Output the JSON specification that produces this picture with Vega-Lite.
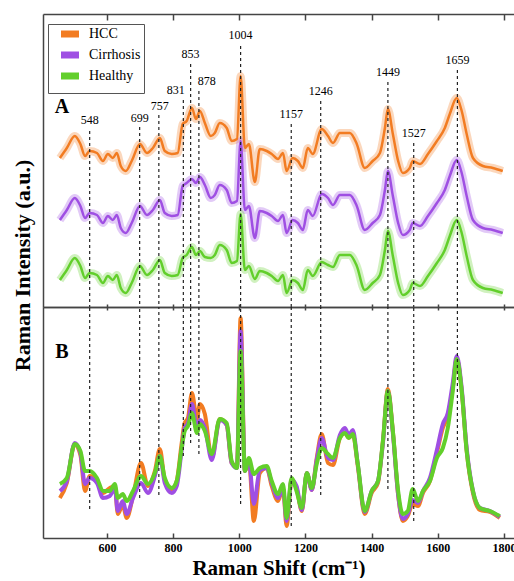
{
  "$schema": "https://vega.github.io/schema/vega-lite/v6.json",
  "padding": {"left": 11, "top": 13, "right": 0, "bottom": 0},
  "autosize": {"type": "pad"},
  "background": "white",
  "config": {
    "view": {"stroke": null},
    "font": "Liberation Serif",
    "axis": {"grid": false, "domainColor": "#444", "domainWidth": 1.5, "tickColor": "#444", "tickWidth": 1.5,
      "labelFont": "Liberation Serif", "labelFontWeight": "bold", "labelFontSize": 12, "labelColor": "black",
      "titleFont": "Liberation Serif", "titleFontWeight": "bold", "titleFontSize": 21, "titleColor": "black"}
  },
  "datasets": {
    "A": [
      {"x":458,"s":"HCC","y":149},{"x":479,"s":"HCC","y":159},{"x":503,"s":"HCC","y":171},{"x":520,"s":"HCC","y":163},{"x":534,"s":"HCC","y":151},{"x":548,"s":"HCC","y":156},{"x":570,"s":"HCC","y":154},{"x":588,"s":"HCC","y":146},{"x":603,"s":"HCC","y":153},{"x":618,"s":"HCC","y":149},{"x":630,"s":"HCC","y":154},{"x":642,"s":"HCC","y":141},{"x":657,"s":"HCC","y":136},{"x":675,"s":"HCC","y":146},{"x":700,"s":"HCC","y":163},{"x":721,"s":"HCC","y":154},{"x":739,"s":"HCC","y":159},{"x":760,"s":"HCC","y":169},{"x":775,"s":"HCC","y":156},{"x":796,"s":"HCC","y":153},{"x":814,"s":"HCC","y":154},{"x":829,"s":"HCC","y":183},{"x":841,"s":"HCC","y":186},{"x":857,"s":"HCC","y":199},{"x":869,"s":"HCC","y":188},{"x":881,"s":"HCC","y":196},{"x":896,"s":"HCC","y":184},{"x":914,"s":"HCC","y":171},{"x":926,"s":"HCC","y":174},{"x":941,"s":"HCC","y":184},{"x":962,"s":"HCC","y":179},{"x":977,"s":"HCC","y":166},{"x":993,"s":"HCC","y":168},{"x":1004,"s":"HCC","y":231},{"x":1017,"s":"HCC","y":159},{"x":1029,"s":"HCC","y":163},{"x":1047,"s":"HCC","y":125},{"x":1062,"s":"HCC","y":158},{"x":1083,"s":"HCC","y":156},{"x":1098,"s":"HCC","y":153},{"x":1117,"s":"HCC","y":148},{"x":1132,"s":"HCC","y":154},{"x":1143,"s":"HCC","y":136},{"x":1161,"s":"HCC","y":149},{"x":1177,"s":"HCC","y":146},{"x":1192,"s":"HCC","y":139},{"x":1207,"s":"HCC","y":159},{"x":1222,"s":"HCC","y":153},{"x":1249,"s":"HCC","y":178},{"x":1268,"s":"HCC","y":171},{"x":1283,"s":"HCC","y":164},{"x":1304,"s":"HCC","y":174},{"x":1334,"s":"HCC","y":174},{"x":1355,"s":"HCC","y":163},{"x":1379,"s":"HCC","y":139},{"x":1403,"s":"HCC","y":146},{"x":1425,"s":"HCC","y":154},{"x":1440,"s":"HCC","y":179},{"x":1449,"s":"HCC","y":198},{"x":1464,"s":"HCC","y":173},{"x":1480,"s":"HCC","y":146},{"x":1494,"s":"HCC","y":134},{"x":1515,"s":"HCC","y":139},{"x":1524,"s":"HCC","y":146},{"x":1546,"s":"HCC","y":143},{"x":1570,"s":"HCC","y":153},{"x":1597,"s":"HCC","y":166},{"x":1621,"s":"HCC","y":179},{"x":1636,"s":"HCC","y":193},{"x":1657,"s":"HCC","y":209},{"x":1672,"s":"HCC","y":196},{"x":1687,"s":"HCC","y":173},{"x":1706,"s":"HCC","y":149},{"x":1736,"s":"HCC","y":141},{"x":1766,"s":"HCC","y":139},{"x":1796,"s":"HCC","y":136},
      {"x":458,"s":"Cirrhosis","y":87},{"x":479,"s":"Cirrhosis","y":97},{"x":503,"s":"Cirrhosis","y":109},{"x":520,"s":"Cirrhosis","y":101},{"x":534,"s":"Cirrhosis","y":89},{"x":548,"s":"Cirrhosis","y":94},{"x":570,"s":"Cirrhosis","y":92},{"x":588,"s":"Cirrhosis","y":84},{"x":603,"s":"Cirrhosis","y":91},{"x":618,"s":"Cirrhosis","y":87},{"x":630,"s":"Cirrhosis","y":92},{"x":642,"s":"Cirrhosis","y":79},{"x":657,"s":"Cirrhosis","y":74},{"x":675,"s":"Cirrhosis","y":84},{"x":700,"s":"Cirrhosis","y":101},{"x":721,"s":"Cirrhosis","y":92},{"x":739,"s":"Cirrhosis","y":97},{"x":760,"s":"Cirrhosis","y":107},{"x":775,"s":"Cirrhosis","y":94},{"x":796,"s":"Cirrhosis","y":91},{"x":814,"s":"Cirrhosis","y":92},{"x":829,"s":"Cirrhosis","y":121},{"x":841,"s":"Cirrhosis","y":124},{"x":857,"s":"Cirrhosis","y":128},{"x":869,"s":"Cirrhosis","y":124},{"x":881,"s":"Cirrhosis","y":130},{"x":896,"s":"Cirrhosis","y":122},{"x":914,"s":"Cirrhosis","y":109},{"x":926,"s":"Cirrhosis","y":112},{"x":941,"s":"Cirrhosis","y":122},{"x":962,"s":"Cirrhosis","y":117},{"x":977,"s":"Cirrhosis","y":104},{"x":993,"s":"Cirrhosis","y":106},{"x":1004,"s":"Cirrhosis","y":166},{"x":1017,"s":"Cirrhosis","y":97},{"x":1029,"s":"Cirrhosis","y":101},{"x":1047,"s":"Cirrhosis","y":69},{"x":1062,"s":"Cirrhosis","y":96},{"x":1083,"s":"Cirrhosis","y":94},{"x":1098,"s":"Cirrhosis","y":91},{"x":1117,"s":"Cirrhosis","y":86},{"x":1132,"s":"Cirrhosis","y":92},{"x":1143,"s":"Cirrhosis","y":74},{"x":1161,"s":"Cirrhosis","y":87},{"x":1177,"s":"Cirrhosis","y":84},{"x":1192,"s":"Cirrhosis","y":77},{"x":1207,"s":"Cirrhosis","y":97},{"x":1222,"s":"Cirrhosis","y":91},{"x":1249,"s":"Cirrhosis","y":113},{"x":1268,"s":"Cirrhosis","y":109},{"x":1283,"s":"Cirrhosis","y":102},{"x":1304,"s":"Cirrhosis","y":112},{"x":1334,"s":"Cirrhosis","y":112},{"x":1355,"s":"Cirrhosis","y":101},{"x":1379,"s":"Cirrhosis","y":77},{"x":1403,"s":"Cirrhosis","y":84},{"x":1425,"s":"Cirrhosis","y":92},{"x":1440,"s":"Cirrhosis","y":117},{"x":1449,"s":"Cirrhosis","y":136},{"x":1464,"s":"Cirrhosis","y":111},{"x":1480,"s":"Cirrhosis","y":84},{"x":1494,"s":"Cirrhosis","y":72},{"x":1515,"s":"Cirrhosis","y":77},{"x":1524,"s":"Cirrhosis","y":84},{"x":1546,"s":"Cirrhosis","y":81},{"x":1570,"s":"Cirrhosis","y":91},{"x":1597,"s":"Cirrhosis","y":104},{"x":1621,"s":"Cirrhosis","y":117},{"x":1636,"s":"Cirrhosis","y":131},{"x":1657,"s":"Cirrhosis","y":147},{"x":1672,"s":"Cirrhosis","y":134},{"x":1687,"s":"Cirrhosis","y":111},{"x":1706,"s":"Cirrhosis","y":87},{"x":1736,"s":"Cirrhosis","y":79},{"x":1766,"s":"Cirrhosis","y":77},{"x":1796,"s":"Cirrhosis","y":74},
      {"x":458,"s":"Healthy","y":27},{"x":479,"s":"Healthy","y":37},{"x":503,"s":"Healthy","y":49},{"x":520,"s":"Healthy","y":41},{"x":534,"s":"Healthy","y":29},{"x":548,"s":"Healthy","y":34},{"x":570,"s":"Healthy","y":32},{"x":588,"s":"Healthy","y":24},{"x":603,"s":"Healthy","y":31},{"x":618,"s":"Healthy","y":27},{"x":630,"s":"Healthy","y":32},{"x":642,"s":"Healthy","y":19},{"x":657,"s":"Healthy","y":14},{"x":675,"s":"Healthy","y":24},{"x":700,"s":"Healthy","y":41},{"x":721,"s":"Healthy","y":32},{"x":739,"s":"Healthy","y":37},{"x":760,"s":"Healthy","y":47},{"x":775,"s":"Healthy","y":34},{"x":796,"s":"Healthy","y":31},{"x":814,"s":"Healthy","y":32},{"x":829,"s":"Healthy","y":49},{"x":841,"s":"Healthy","y":52},{"x":857,"s":"Healthy","y":60},{"x":869,"s":"Healthy","y":52},{"x":881,"s":"Healthy","y":56},{"x":896,"s":"Healthy","y":50},{"x":914,"s":"Healthy","y":49},{"x":926,"s":"Healthy","y":52},{"x":941,"s":"Healthy","y":62},{"x":962,"s":"Healthy","y":57},{"x":977,"s":"Healthy","y":44},{"x":993,"s":"Healthy","y":46},{"x":1004,"s":"Healthy","y":93},{"x":1017,"s":"Healthy","y":37},{"x":1029,"s":"Healthy","y":41},{"x":1047,"s":"Healthy","y":28},{"x":1062,"s":"Healthy","y":36},{"x":1083,"s":"Healthy","y":34},{"x":1098,"s":"Healthy","y":31},{"x":1117,"s":"Healthy","y":26},{"x":1132,"s":"Healthy","y":32},{"x":1143,"s":"Healthy","y":14},{"x":1161,"s":"Healthy","y":27},{"x":1177,"s":"Healthy","y":24},{"x":1192,"s":"Healthy","y":17},{"x":1207,"s":"Healthy","y":37},{"x":1222,"s":"Healthy","y":31},{"x":1249,"s":"Healthy","y":45},{"x":1268,"s":"Healthy","y":42},{"x":1283,"s":"Healthy","y":40},{"x":1304,"s":"Healthy","y":52},{"x":1334,"s":"Healthy","y":52},{"x":1355,"s":"Healthy","y":41},{"x":1379,"s":"Healthy","y":17},{"x":1403,"s":"Healthy","y":24},{"x":1425,"s":"Healthy","y":32},{"x":1440,"s":"Healthy","y":57},{"x":1449,"s":"Healthy","y":76},{"x":1464,"s":"Healthy","y":51},{"x":1480,"s":"Healthy","y":24},{"x":1494,"s":"Healthy","y":12},{"x":1515,"s":"Healthy","y":17},{"x":1524,"s":"Healthy","y":24},{"x":1546,"s":"Healthy","y":21},{"x":1570,"s":"Healthy","y":31},{"x":1597,"s":"Healthy","y":44},{"x":1621,"s":"Healthy","y":57},{"x":1636,"s":"Healthy","y":71},{"x":1657,"s":"Healthy","y":87},{"x":1672,"s":"Healthy","y":74},{"x":1687,"s":"Healthy","y":51},{"x":1706,"s":"Healthy","y":27},{"x":1736,"s":"Healthy","y":19},{"x":1766,"s":"Healthy","y":17},{"x":1796,"s":"Healthy","y":14}
    ],
    "B": [
      {"x":458,"s":"HCC","y":40},{"x":479,"s":"HCC","y":55},{"x":503,"s":"HCC","y":94},{"x":520,"s":"HCC","y":83},{"x":534,"s":"HCC","y":47},{"x":548,"s":"HCC","y":62},{"x":570,"s":"HCC","y":57},{"x":588,"s":"HCC","y":45},{"x":609,"s":"HCC","y":50},{"x":624,"s":"HCC","y":52},{"x":633,"s":"HCC","y":24},{"x":648,"s":"HCC","y":33},{"x":660,"s":"HCC","y":20},{"x":679,"s":"HCC","y":42},{"x":703,"s":"HCC","y":75},{"x":724,"s":"HCC","y":52},{"x":745,"s":"HCC","y":67},{"x":760,"s":"HCC","y":89},{"x":775,"s":"HCC","y":58},{"x":796,"s":"HCC","y":48},{"x":811,"s":"HCC","y":57},{"x":826,"s":"HCC","y":95},{"x":835,"s":"HCC","y":115},{"x":845,"s":"HCC","y":120},{"x":857,"s":"HCC","y":145},{"x":872,"s":"HCC","y":119},{"x":881,"s":"HCC","y":134},{"x":896,"s":"HCC","y":124},{"x":917,"s":"HCC","y":80},{"x":941,"s":"HCC","y":119},{"x":962,"s":"HCC","y":113},{"x":977,"s":"HCC","y":75},{"x":993,"s":"HCC","y":72},{"x":1004,"s":"HCC","y":220},{"x":1017,"s":"HCC","y":67},{"x":1029,"s":"HCC","y":78},{"x":1044,"s":"HCC","y":17},{"x":1062,"s":"HCC","y":65},{"x":1083,"s":"HCC","y":70},{"x":1098,"s":"HCC","y":52},{"x":1117,"s":"HCC","y":37},{"x":1132,"s":"HCC","y":50},{"x":1143,"s":"HCC","y":12},{"x":1158,"s":"HCC","y":58},{"x":1173,"s":"HCC","y":50},{"x":1189,"s":"HCC","y":27},{"x":1204,"s":"HCC","y":65},{"x":1219,"s":"HCC","y":48},{"x":1234,"s":"HCC","y":80},{"x":1249,"s":"HCC","y":104},{"x":1268,"s":"HCC","y":75},{"x":1283,"s":"HCC","y":73},{"x":1304,"s":"HCC","y":100},{"x":1319,"s":"HCC","y":105},{"x":1331,"s":"HCC","y":100},{"x":1343,"s":"HCC","y":104},{"x":1358,"s":"HCC","y":72},{"x":1379,"s":"HCC","y":24},{"x":1400,"s":"HCC","y":45},{"x":1419,"s":"HCC","y":55},{"x":1434,"s":"HCC","y":97},{"x":1449,"s":"HCC","y":149},{"x":1464,"s":"HCC","y":107},{"x":1480,"s":"HCC","y":43},{"x":1494,"s":"HCC","y":17},{"x":1509,"s":"HCC","y":22},{"x":1524,"s":"HCC","y":34},{"x":1540,"s":"HCC","y":32},{"x":1555,"s":"HCC","y":45},{"x":1576,"s":"HCC","y":57},{"x":1597,"s":"HCC","y":85},{"x":1615,"s":"HCC","y":110},{"x":1630,"s":"HCC","y":122},{"x":1645,"s":"HCC","y":150},{"x":1657,"s":"HCC","y":180},{"x":1672,"s":"HCC","y":147},{"x":1687,"s":"HCC","y":87},{"x":1706,"s":"HCC","y":45},{"x":1727,"s":"HCC","y":28},{"x":1757,"s":"HCC","y":26},{"x":1787,"s":"HCC","y":20},
      {"x":458,"s":"Cirrhosis","y":47},{"x":479,"s":"Cirrhosis","y":57},{"x":503,"s":"Cirrhosis","y":95},{"x":520,"s":"Cirrhosis","y":85},{"x":534,"s":"Cirrhosis","y":54},{"x":548,"s":"Cirrhosis","y":60},{"x":570,"s":"Cirrhosis","y":55},{"x":588,"s":"Cirrhosis","y":40},{"x":609,"s":"Cirrhosis","y":42},{"x":624,"s":"Cirrhosis","y":50},{"x":633,"s":"Cirrhosis","y":27},{"x":648,"s":"Cirrhosis","y":37},{"x":660,"s":"Cirrhosis","y":24},{"x":679,"s":"Cirrhosis","y":40},{"x":703,"s":"Cirrhosis","y":55},{"x":724,"s":"Cirrhosis","y":45},{"x":745,"s":"Cirrhosis","y":62},{"x":760,"s":"Cirrhosis","y":82},{"x":775,"s":"Cirrhosis","y":55},{"x":796,"s":"Cirrhosis","y":45},{"x":811,"s":"Cirrhosis","y":52},{"x":826,"s":"Cirrhosis","y":88},{"x":835,"s":"Cirrhosis","y":110},{"x":845,"s":"Cirrhosis","y":115},{"x":857,"s":"Cirrhosis","y":134},{"x":872,"s":"Cirrhosis","y":110},{"x":881,"s":"Cirrhosis","y":118},{"x":896,"s":"Cirrhosis","y":110},{"x":917,"s":"Cirrhosis","y":78},{"x":941,"s":"Cirrhosis","y":118},{"x":962,"s":"Cirrhosis","y":113},{"x":977,"s":"Cirrhosis","y":75},{"x":993,"s":"Cirrhosis","y":70},{"x":1004,"s":"Cirrhosis","y":207},{"x":1017,"s":"Cirrhosis","y":67},{"x":1029,"s":"Cirrhosis","y":78},{"x":1044,"s":"Cirrhosis","y":34},{"x":1062,"s":"Cirrhosis","y":68},{"x":1083,"s":"Cirrhosis","y":70},{"x":1098,"s":"Cirrhosis","y":55},{"x":1117,"s":"Cirrhosis","y":40},{"x":1132,"s":"Cirrhosis","y":50},{"x":1143,"s":"Cirrhosis","y":17},{"x":1158,"s":"Cirrhosis","y":58},{"x":1173,"s":"Cirrhosis","y":52},{"x":1189,"s":"Cirrhosis","y":28},{"x":1204,"s":"Cirrhosis","y":65},{"x":1219,"s":"Cirrhosis","y":48},{"x":1234,"s":"Cirrhosis","y":78},{"x":1249,"s":"Cirrhosis","y":100},{"x":1268,"s":"Cirrhosis","y":80},{"x":1283,"s":"Cirrhosis","y":78},{"x":1304,"s":"Cirrhosis","y":103},{"x":1319,"s":"Cirrhosis","y":110},{"x":1331,"s":"Cirrhosis","y":103},{"x":1343,"s":"Cirrhosis","y":108},{"x":1358,"s":"Cirrhosis","y":74},{"x":1379,"s":"Cirrhosis","y":26},{"x":1400,"s":"Cirrhosis","y":47},{"x":1419,"s":"Cirrhosis","y":57},{"x":1434,"s":"Cirrhosis","y":95},{"x":1449,"s":"Cirrhosis","y":147},{"x":1464,"s":"Cirrhosis","y":105},{"x":1480,"s":"Cirrhosis","y":43},{"x":1494,"s":"Cirrhosis","y":19},{"x":1509,"s":"Cirrhosis","y":24},{"x":1524,"s":"Cirrhosis","y":38},{"x":1540,"s":"Cirrhosis","y":35},{"x":1555,"s":"Cirrhosis","y":47},{"x":1576,"s":"Cirrhosis","y":60},{"x":1597,"s":"Cirrhosis","y":88},{"x":1615,"s":"Cirrhosis","y":114},{"x":1630,"s":"Cirrhosis","y":125},{"x":1645,"s":"Cirrhosis","y":155},{"x":1657,"s":"Cirrhosis","y":182},{"x":1672,"s":"Cirrhosis","y":150},{"x":1687,"s":"Cirrhosis","y":90},{"x":1706,"s":"Cirrhosis","y":47},{"x":1727,"s":"Cirrhosis","y":30},{"x":1757,"s":"Cirrhosis","y":27},{"x":1787,"s":"Cirrhosis","y":21},
      {"x":458,"s":"Healthy","y":54},{"x":479,"s":"Healthy","y":60},{"x":503,"s":"Healthy","y":94},{"x":520,"s":"Healthy","y":87},{"x":534,"s":"Healthy","y":67},{"x":548,"s":"Healthy","y":67},{"x":570,"s":"Healthy","y":60},{"x":588,"s":"Healthy","y":47},{"x":609,"s":"Healthy","y":47},{"x":624,"s":"Healthy","y":54},{"x":633,"s":"Healthy","y":40},{"x":648,"s":"Healthy","y":44},{"x":660,"s":"Healthy","y":37},{"x":679,"s":"Healthy","y":47},{"x":703,"s":"Healthy","y":62},{"x":724,"s":"Healthy","y":54},{"x":745,"s":"Healthy","y":65},{"x":760,"s":"Healthy","y":82},{"x":775,"s":"Healthy","y":60},{"x":796,"s":"Healthy","y":50},{"x":811,"s":"Healthy","y":57},{"x":826,"s":"Healthy","y":90},{"x":835,"s":"Healthy","y":107},{"x":845,"s":"Healthy","y":112},{"x":857,"s":"Healthy","y":125},{"x":872,"s":"Healthy","y":105},{"x":881,"s":"Healthy","y":114},{"x":896,"s":"Healthy","y":107},{"x":917,"s":"Healthy","y":84},{"x":941,"s":"Healthy","y":119},{"x":962,"s":"Healthy","y":115},{"x":977,"s":"Healthy","y":77},{"x":993,"s":"Healthy","y":70},{"x":1004,"s":"Healthy","y":187},{"x":1017,"s":"Healthy","y":67},{"x":1029,"s":"Healthy","y":80},{"x":1044,"s":"Healthy","y":64},{"x":1062,"s":"Healthy","y":70},{"x":1083,"s":"Healthy","y":72},{"x":1098,"s":"Healthy","y":57},{"x":1117,"s":"Healthy","y":44},{"x":1132,"s":"Healthy","y":54},{"x":1143,"s":"Healthy","y":20},{"x":1158,"s":"Healthy","y":60},{"x":1173,"s":"Healthy","y":47},{"x":1189,"s":"Healthy","y":30},{"x":1204,"s":"Healthy","y":65},{"x":1219,"s":"Healthy","y":50},{"x":1234,"s":"Healthy","y":74},{"x":1249,"s":"Healthy","y":90},{"x":1268,"s":"Healthy","y":84},{"x":1283,"s":"Healthy","y":80},{"x":1304,"s":"Healthy","y":100},{"x":1319,"s":"Healthy","y":105},{"x":1331,"s":"Healthy","y":100},{"x":1343,"s":"Healthy","y":104},{"x":1358,"s":"Healthy","y":74},{"x":1379,"s":"Healthy","y":27},{"x":1400,"s":"Healthy","y":47},{"x":1419,"s":"Healthy","y":57},{"x":1434,"s":"Healthy","y":97},{"x":1449,"s":"Healthy","y":147},{"x":1464,"s":"Healthy","y":107},{"x":1480,"s":"Healthy","y":47},{"x":1494,"s":"Healthy","y":24},{"x":1509,"s":"Healthy","y":27},{"x":1524,"s":"Healthy","y":49},{"x":1540,"s":"Healthy","y":37},{"x":1555,"s":"Healthy","y":47},{"x":1576,"s":"Healthy","y":57},{"x":1597,"s":"Healthy","y":80},{"x":1615,"s":"Healthy","y":90},{"x":1630,"s":"Healthy","y":110},{"x":1645,"s":"Healthy","y":147},{"x":1657,"s":"Healthy","y":179},{"x":1672,"s":"Healthy","y":147},{"x":1687,"s":"Healthy","y":87},{"x":1706,"s":"Healthy","y":47},{"x":1727,"s":"Healthy","y":30},{"x":1757,"s":"Healthy","y":27},{"x":1787,"s":"Healthy","y":22}
    ],
    "peaks": [
      {"p":548,"t":"548","lx":548,"ta":176,"la":187,"bb":29},
      {"p":699,"t":"699","lx":699,"ta":180,"la":189,"bb":40},
      {"p":757,"t":"757","lx":760,"ta":192,"la":201,"bb":43},
      {"p":831,"t":"831","lx":808,"ta":207,"la":217,"bb":82},
      {"p":853,"t":"853","lx":853,"ta":243,"la":253,"bb":95},
      {"p":878,"t":"878","lx":902,"ta":216,"la":226,"bb":84},
      {"p":1004,"t":"1004","lx":1004,"ta":261,"la":272,"bb":34},
      {"p":1157,"t":"1157","lx":1157,"ta":183,"la":193,"bb":12},
      {"p":1246,"t":"1246","lx":1246,"ta":206,"la":216,"bb":43},
      {"p":1449,"t":"1449","lx":1449,"ta":225,"la":235,"bb":49},
      {"p":1527,"t":"1527","lx":1527,"ta":164,"la":174,"bb":17},
      {"p":1659,"t":"1659","lx":1659,"ta":237,"la":247,"bb":80}
    ]
  },
  "bounds": "flush",
  "spacing": 0,
  "resolve": {"legend": {"color": "independent"}},
  "vconcat": [
    {
      "width": 471,
      "height": 293,
      "resolve": {"axis": {"x": "independent"}},
      "layer": [
        {
          "data": {"name": "A"},
          "mark": {"type": "line", "strokeWidth": 8, "strokeOpacity": 0.3, "interpolate": "monotone"},
          "encoding": {
            "x": {"field": "x", "type": "quantitative", "scale": {"domain": [407, 1830], "nice": false, "zero": false},
              "axis": {"orient": "top", "values": [600, 800, 1000, 1200, 1400, 1600, 1800], "labels": false, "tickSize": -6, "title": null}},
            "y": {"field": "y", "type": "quantitative", "scale": {"domain": [0, 293], "nice": false, "zero": false},
              "axis": {"title": "Raman Intensity (a.u.)", "labels": false, "ticks": false, "titleY": 251, "titlePadding": 9, "titleFontSize": 22}},
            "color": {"field": "s", "type": "nominal", "sort": ["HCC", "Cirrhosis", "Healthy"],
              "scale": {"domain": ["HCC", "Cirrhosis", "Healthy"], "range": ["#F27C22", "#9F4FE3", "#62CF2B"]},
              "legend": {"orient": "none", "legendX": 5, "legendY": 10, "title": null, "symbolType": "M-3,0H3", "symbolSize": 36,
                "symbolStrokeWidth": 7, "symbolOffset": 12, "symbolOpacity": 1, "labelFontSize": 14, "labelFont": "Liberation Serif", "labelColor": "black", "strokeColor": "#555",
                "padding": 3, "rowPadding": -19, "fillColor": "white", "labelOffset": 12}}
          }
        },
        {
          "data": {"name": "A"},
          "mark": {"type": "line", "strokeWidth": 2.5, "interpolate": "monotone"},
          "encoding": {
            "x": {"field": "x", "type": "quantitative", "axis": null},
            "y": {"field": "y", "type": "quantitative",
              "axis": {"title": "Raman Intensity (a.u.)", "labels": false, "ticks": false, "titleY": 251, "titlePadding": 9, "titleFontSize": 22}},
            "color": {"field": "s", "type": "nominal", "sort": ["HCC", "Cirrhosis", "Healthy"],
              "legend": {"orient": "none", "legendX": 5, "legendY": 10, "title": null, "symbolType": "M-3,0H3", "symbolSize": 36,
                "symbolStrokeWidth": 7, "symbolOffset": 12, "symbolOpacity": 1, "labelFontSize": 14, "labelFont": "Liberation Serif", "labelColor": "black", "strokeColor": "#555",
                "padding": 3, "rowPadding": -19, "fillColor": "white", "labelOffset": 12}}
          }
        },
        {
          "data": {"name": "peaks"},
          "mark": {"type": "rule", "color": "#222", "strokeWidth": 1.2, "strokeDash": [3, 3]},
          "encoding": {
            "x": {"field": "p", "type": "quantitative",
              "axis": {"orient": "bottom", "values": [600, 800, 1000, 1200, 1400, 1600, 1800], "labels": false, "tickSize": 3, "title": null}},
            "y": {"field": "ta", "type": "quantitative",
              "axis": {"title": "Raman Intensity (a.u.)", "labels": false, "ticks": false, "titleY": 251, "titlePadding": 9, "titleFontSize": 22}},
            "y2": {"datum": 0}
          }
        },
        {
          "data": {"name": "peaks"},
          "mark": {"type": "text", "fontSize": 12, "font": "Liberation Serif", "baseline": "middle", "color": "black"},
          "encoding": {
            "x": {"field": "lx", "type": "quantitative", "axis": null},
            "y": {"field": "la", "type": "quantitative",
              "axis": {"title": "Raman Intensity (a.u.)", "labels": false, "ticks": false, "titleY": 251, "titlePadding": 9, "titleFontSize": 22}},
            "text": {"field": "t", "type": "nominal"}
          }
        },
        {
          "data": {"values": [{"x": 464, "y": 200, "t": "A"}]},
          "mark": {"type": "text", "fontSize": 20, "fontWeight": "bold", "font": "Liberation Serif", "baseline": "middle", "color": "black"},
          "encoding": {
            "x": {"field": "x", "type": "quantitative", "axis": null},
            "y": {"field": "y", "type": "quantitative",
              "axis": {"title": "Raman Intensity (a.u.)", "labels": false, "ticks": false, "titleY": 251, "titlePadding": 9, "titleFontSize": 22}},
            "text": {"field": "t", "type": "nominal"}
          }
        }
      ]
    },
    {
      "width": 471,
      "height": 231,
      "resolve": {"axis": {"x": "independent"}},
      "layer": [
        {
          "data": {"name": "B"},
          "mark": {"type": "line", "strokeWidth": 4, "interpolate": "monotone"},
          "encoding": {
            "x": {"field": "x", "type": "quantitative", "scale": {"domain": [407, 1830], "nice": false, "zero": false},
              "axis": {"orient": "top", "values": [600, 800, 1000, 1200, 1400, 1600, 1800], "labels": false, "tickSize": 3, "title": null}},
            "y": {"field": "y", "type": "quantitative", "scale": {"domain": [0, 231], "nice": false, "zero": false},
              "axis": {"title": null, "labels": false, "ticks": false}},
            "color": {"field": "s", "type": "nominal", "sort": ["HCC", "Cirrhosis", "Healthy"],
              "scale": {"domain": ["HCC", "Cirrhosis", "Healthy"], "range": ["#F27C22", "#9F4FE3", "#62CF2B"]},
              "legend": null}
          }
        },
        {
          "data": {"name": "peaks"},
          "mark": {"type": "rule", "color": "#222", "strokeWidth": 1.2, "strokeDash": [3, 3]},
          "encoding": {
            "x": {"field": "p", "type": "quantitative",
              "axis": {"orient": "bottom", "values": [600, 800, 1000, 1200, 1400, 1600, 1800], "format": "d", "tickSize": -5, "labelPadding": 9,
                "title": "Raman Shift (cm⁻¹)", "titlePadding": 4, "titleFontSize": 21}},
            "y": {"field": "bb", "type": "quantitative", "axis": {"title": null, "labels": false, "ticks": false}},
            "y2": {"datum": 231}
          }
        },
        {
          "data": {"values": [{"x": 464, "y": 186, "t": "B"}]},
          "mark": {"type": "text", "fontSize": 20, "fontWeight": "bold", "font": "Liberation Serif", "baseline": "middle", "color": "black"},
          "encoding": {
            "x": {"field": "x", "type": "quantitative", "axis": null},
            "y": {"field": "y", "type": "quantitative", "axis": {"title": null, "labels": false, "ticks": false}},
            "text": {"field": "t", "type": "nominal"}
          }
        }
      ]
    }
  ]
}
